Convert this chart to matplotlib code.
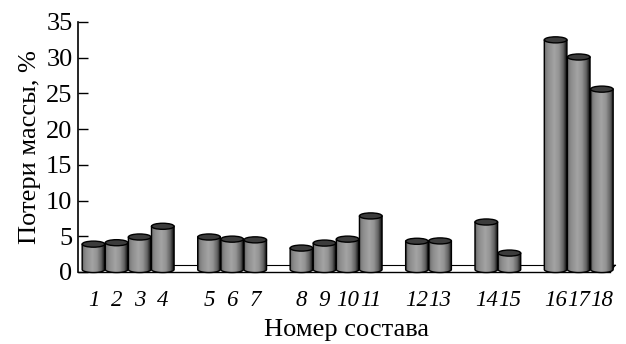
import matplotlib
matplotlib.use("Agg")
import matplotlib.pyplot as plt
import numpy as np
from matplotlib.patches import Ellipse, Polygon

# ── Data ─────────────────────────────────────────────────────────────────────
labels = [str(i) for i in range(1, 19)]
slots = [0, 1, 2, 3, 5, 6, 7, 9, 10, 11, 12, 14, 15, 17, 18, 20, 21, 22]
loss = [3.9, 4.1, 4.9, 6.4, 4.9, 4.6, 4.5, 3.35, 4.05, 4.6, 7.85,
        4.3, 4.35, 7.0, 2.65, 32.5, 30.1, 25.6]

plt.rcParams["font.family"] = ["Liberation Serif", "DejaVu Serif"]

W, H = 626, 344
fig = plt.figure(figsize=(W / 100, H / 100), dpi=100)
ax = fig.add_axes([78 / W, 72 / H, (615 - 78) / W, 250 / H])
ax.set_xlim(-0.17, 23.07)
ax.set_ylim(0, 35)

# horizontal shading profile of a cylinder
prof_x = [0.0, 0.06, 0.2, 0.45, 0.65, 0.85, 0.95, 1.0]
prof_v = [0.22, 0.48, 0.56, 0.64, 0.58, 0.38, 0.15, 0.05]
grad = np.interp(np.linspace(0, 1, 64), prof_x, prof_v)[None, :]

bw = 0.98     # bar width in slots
eh = 0.85     # ellipse height in data units
base = 0.35   # bar bottom sits between front and back edge of the floor

# floor (front edge, back edge, right slant)
back = 0.95
ax.plot([-0.17, 22.85], [0, 0], color="black", lw=1.0, clip_on=False, zorder=1)
ax.plot([0.05, 23.07], [back, back], color="black", lw=0.8, clip_on=False, zorder=1)
ax.plot([22.85, 23.07], [0, back], color="black", lw=1.0, clip_on=False, zorder=1)

for s, v in zip(slots, loss):
    x0, x1 = s + (1 - bw) / 2, s + (1 + bw) / 2
    cx = (x0 + x1) / 2
    t = np.linspace(np.pi, 2 * np.pi, 40)
    bottom = np.column_stack([cx + bw / 2 * np.cos(t), base + eh / 2 * np.sin(t)])
    pts = np.vstack([[[x0, v]], bottom, [[x1, v]]])
    body = Polygon(pts, closed=True, facecolor="none", edgecolor="black",
                   lw=1.0, zorder=3, clip_on=False)
    im = ax.imshow(grad, cmap="gray", vmin=0, vmax=1, aspect="auto",
                   extent=[x0, x1, base - eh, v], zorder=2,
                   interpolation="bilinear")
    ax.add_patch(body)
    im.set_clip_path(body)
    top = Ellipse((cx, v), bw, eh, facecolor="#3c3c3c", edgecolor="black",
                  lw=1.0, zorder=4, clip_on=False)
    ax.add_patch(top)

ax.set_xticks([s + 0.5 for s in slots])
ax.set_xticklabels(labels, fontstyle="italic", fontsize=16.5)
ax.tick_params(axis="x", length=0, pad=13)
ax.set_yticks(range(0, 36, 5))
ax.tick_params(axis="y", direction="in", length=7, width=1, labelsize=19, pad=4)

for sp in ("top", "right", "bottom"):
    ax.spines[sp].set_visible(False)
ax.spines["left"].set_linewidth(1.2)

ax.set_xlabel("Номер состава", fontsize=19, labelpad=6)
ax.set_ylabel("Потери массы, %", fontsize=19, labelpad=4)

fig.savefig("out.png", dpi=100)
